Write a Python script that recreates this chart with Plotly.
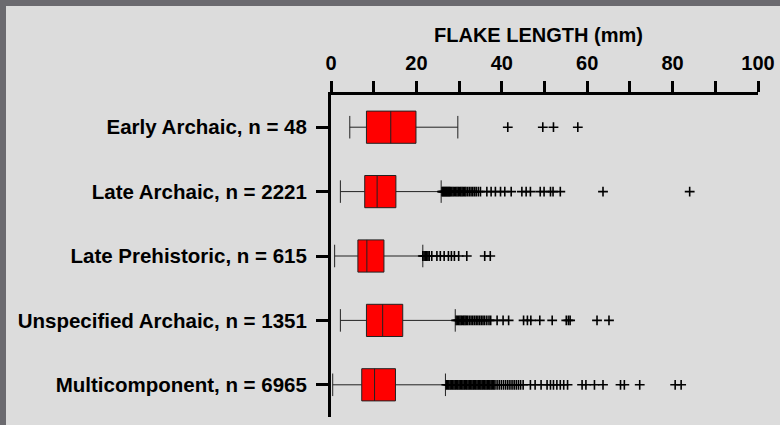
import plotly.graph_objects as go

# ---------------- data ----------------
categories = [
    "Early Archaic, n = 48",
    "Late Archaic, n = 2221",
    "Late Prehistoric, n = 615",
    "Unspecified Archaic, n = 1351",
    "Multicomponent, n = 6965",
]
lower_whisker = [4.4, 2.2, 0.85, 2.2, 0.4]
q1_values = [8.3, 7.9, 6.3, 8.3, 7.2]
median_values = [14.0, 10.8, 8.4, 12.1, 10.2]
q3_values = [19.9, 15.2, 12.4, 16.8, 15.1]
upper_whisker = [29.7, 25.8, 21.5, 29.1, 26.8]

outliers_early_archaic = [41.4, 49.6, 52.1, 57.8]
outliers_late_archaic = [
    26.0, 26.2, 26.4, 26.6, 26.8, 27.0, 27.2, 27.4, 27.6, 27.8, 28.0, 28.3,
    28.6, 28.9, 29.2, 29.5, 29.8, 30.1, 30.4, 30.7, 31.0, 31.3, 31.6, 32.0,
    32.4, 32.8, 33.2, 33.6, 34.0, 34.5, 35.0, 36.5, 37.5, 38.5, 39.7, 40.7,
    42.2, 44.7, 45.7, 46.7, 49.0, 49.9, 51.4, 52.0, 53.7, 63.7, 84.0,
]
outliers_late_prehistoric = [
    21.5, 21.8, 22.1, 22.4, 22.7, 23.0, 23.6, 24.8, 25.6, 26.5, 27.5, 28.2,
    28.9, 29.9, 31.8, 36.0, 37.3,
]
outliers_unspecified_archaic = [
    29.3, 29.6, 29.9, 30.2, 30.5, 30.8, 31.1, 31.4, 31.7, 32.0, 32.4, 32.8,
    33.2, 33.6, 34.0, 34.4, 34.8, 35.2, 35.6, 36.0, 36.5, 37.0, 37.4, 38.9,
    40.3, 41.6, 45.1, 46.0, 46.8, 48.9, 51.8, 55.1, 55.6, 56.0, 62.3, 65.1,
]
outliers_multicomponent = [
    27.0, 27.3, 27.6, 27.9, 28.2, 28.5, 28.8, 29.1, 29.4, 29.7, 30.0, 30.3,
    30.6, 30.9, 31.2, 31.5, 31.8, 32.1, 32.4, 32.7, 33.0, 33.3, 33.6, 33.9,
    34.2, 34.5, 34.8, 35.1, 35.4, 35.7, 36.0, 36.3, 36.6, 36.9, 37.2, 37.5,
    37.8, 38.1, 38.4, 38.9, 39.4, 39.9, 40.4, 40.9, 41.4, 41.9, 42.4, 42.9,
    43.4, 43.9, 44.4, 45.0, 46.7, 47.8, 49.2, 50.6, 51.4, 52.1, 52.9, 53.7,
    54.5, 55.4, 58.8, 59.7, 61.7, 63.7, 67.8, 68.7, 72.3, 80.6, 82.0,
]
outlier_lists = [
    outliers_early_archaic,
    outliers_late_archaic,
    outliers_late_prehistoric,
    outliers_unspecified_archaic,
    outliers_multicomponent,
]

tick_values = [0, 10, 20, 30, 40, 50, 60, 70, 80, 90, 100]
tick_labels = ["0", "", "20", "", "40", "", "60", "", "80", "", "100"]
axis_title = "FLAKE LENGTH (mm)"

# ---------------- layout constants (pixels) ----------------
W, H = 780, 425
PLOT_L, PLOT_R, PLOT_T, PLOT_B = 331, 758, 95, 417
pw, ph = PLOT_R - PLOT_L, PLOT_B - PLOT_T

def px_x(p):
    return (p - PLOT_L) / pw

def px_y(p):
    return (PLOT_B - p) / ph

BG = "#dcdcdc"
FRAME = "#6b6a6f"
FONT = dict(family="Liberation Sans, Arial, sans-serif", color="black", weight="bold")

fig = go.Figure()

fig.add_trace(go.Box(
    y=categories,
    q1=q1_values,
    median=median_values,
    q3=q3_values,
    lowerfence=lower_whisker,
    upperfence=upper_whisker,
    orientation="h",
    boxpoints=False,
    fillcolor="#ff0000",
    line=dict(color="#222222", width=1),
    width=0.5,
    whiskerwidth=0.7,
    showlegend=False,
    hoverinfo="skip",
))

out_x, out_y = [], []
for cat, vals in zip(categories, outlier_lists):
    out_x.extend(vals)
    out_y.extend([cat] * len(vals))

fig.add_trace(go.Scatter(
    x=out_x,
    y=out_y,
    mode="markers",
    marker=dict(symbol="cross-thin", size=7, line=dict(color="black", width=1.6)),
    showlegend=False,
    hoverinfo="skip",
    cliponaxis=False,
))

# frame: dark band on top and left, light panel inside
fig.add_shape(type="rect", xref="paper", yref="paper", layer="below",
              x0=px_x(6), x1=px_x(W + 10), y0=px_y(H + 10), y1=px_y(6),
              fillcolor=BG, line=dict(width=0))

fig.add_annotation(
    text=axis_title, xref="paper", yref="paper",
    x=px_x(538), y=px_y(35), xanchor="center", yanchor="middle",
    showarrow=False, font=dict(size=20, **FONT),
)

fig.update_layout(
    width=W, height=H,
    margin=dict(l=PLOT_L, r=W - PLOT_R, t=PLOT_T, b=H - PLOT_B, pad=0, autoexpand=False),
    paper_bgcolor=FRAME,
    plot_bgcolor=BG,
    font=FONT,
    xaxis=dict(
        side="top",
        range=[0, 100],
        automargin=False,
        tickmode="array",
        tickvals=tick_values,
        ticktext=tick_labels,
        ticks="outside",
        ticklen=11,
        tickwidth=3,
        tickcolor="black",
        ticklabelstandoff=3,
        showline=True,
        linewidth=3,
        linecolor="black",
        showgrid=False,
        zeroline=False,
        tickfont=dict(size=20, **FONT),
    ),
    yaxis=dict(
        type="category",
        categoryorder="array",
        categoryarray=categories,
        range=[4.5, -0.5],
        automargin=False,
        ticks="outside",
        ticklen=12,
        tickwidth=3,
        tickcolor="black",
        ticklabelstandoff=5,
        showline=True,
        linewidth=3,
        linecolor="black",
        showgrid=False,
        zeroline=False,
        tickfont=dict(size=20.5, **FONT),
    ),
)

fig.write_html(
    "out.html",
    config={"displayModeBar": False},
    post_script="document.body.style.margin='0';document.body.style.overflow='hidden';",
)
